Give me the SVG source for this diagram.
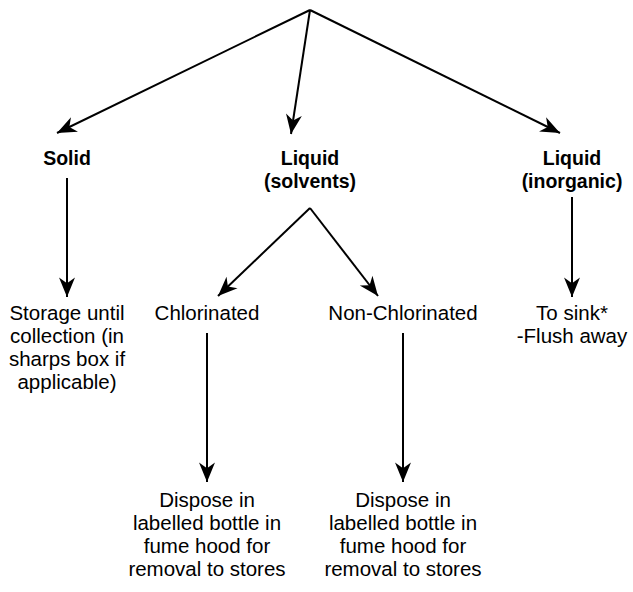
<svg xmlns="http://www.w3.org/2000/svg" width="633" height="592" viewBox="0 0 633 592">
<defs>
<marker id="arr" markerUnits="userSpaceOnUse" markerWidth="24" markerHeight="24" refX="0" refY="0" viewBox="-19 -9 21 18" orient="auto" overflow="visible">
<path d="M0,0 L-17,-7 L-12,0 L-17,7 Z" fill="#000"/>
</marker>
<style>
.c{stroke:#000;stroke-width:2;fill:none;marker-end:url(#arr)}
text{font-family:"Liberation Sans",Arial,sans-serif;font-size:20.5px;fill:#000;text-anchor:middle}
.b{font-weight:bold;font-size:19.5px}
</style>
</defs>
<rect width="633" height="592" fill="#fff"/>
<g id="connectors">
<line class="c" x1="310" y1="10" x2="57" y2="133"/>
<line class="c" x1="310" y1="10" x2="291" y2="134"/>
<line class="c" x1="310" y1="10" x2="560" y2="133"/>
<line class="c" x1="67" y1="178" x2="67" y2="297"/>
<line class="c" x1="310" y1="208" x2="218" y2="296"/>
<line class="c" x1="310" y1="208" x2="378" y2="296"/>
<line class="c" x1="572" y1="197" x2="572" y2="297"/>
<line class="c" x1="207" y1="333" x2="207" y2="482"/>
<line class="c" x1="403" y1="333" x2="403" y2="482"/>
</g>
<g id="solid"><text class="b" x="67" y="165">Solid</text></g>
<g id="liquid-solvents"><text class="b" x="310" y="165">Liquid</text><text class="b" x="310" y="188">(solvents)</text></g>
<g id="liquid-inorganic"><text class="b" x="572" y="165">Liquid</text><text class="b" x="572" y="188">(inorganic)</text></g>
<g id="storage"><text x="67" y="320">Storage until</text><text x="67" y="343">collection (in</text><text x="67" y="366">sharps box if</text><text x="67" y="389">applicable)</text></g>
<g id="chlorinated"><text x="207" y="320">Chlorinated</text></g>
<g id="non-chlorinated"><text x="403" y="320">Non-Chlorinated</text></g>
<g id="sink"><text x="572" y="320">To sink*</text><text x="572" y="343">-Flush away</text></g>
<g id="dispose-chl"><text x="207" y="507">Dispose in</text><text x="207" y="530">labelled bottle in</text><text x="207" y="553">fume hood for</text><text x="207" y="576">removal to stores</text></g>
<g id="dispose-non"><text x="403" y="507">Dispose in</text><text x="403" y="530">labelled bottle in</text><text x="403" y="553">fume hood for</text><text x="403" y="576">removal to stores</text></g>
</svg>
